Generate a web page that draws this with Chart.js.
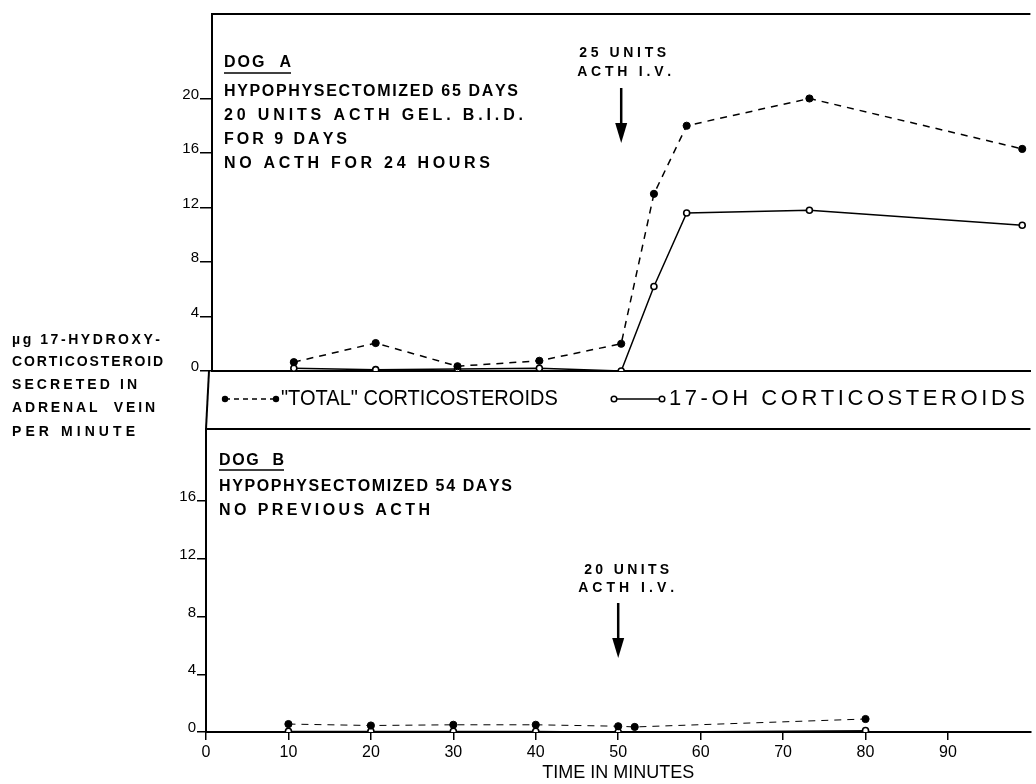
<!DOCTYPE html>
<html>
<head>
<meta charset="utf-8">
<script src="https://cdn.jsdelivr.net/npm/chart.js@4.4.1/dist/chart.umd.min.js"></script>
<style>
  html, body { margin: 0; padding: 0; background: #fff; }
  #wrap { position: relative; width: 1036px; height: 784px; }
  canvas { position: absolute; left: 0; top: 0; }
</style>
</head>
<body>
<div id="wrap">
  <canvas id="chartA" width="1036" height="784"></canvas>
  <canvas id="chartB" width="1036" height="784"></canvas>
</div>
<script>
// ── Datos ───────────────────────────────────────────
const dogAMinutes = [10, 20, 30, 40, 50, 54, 58, 73, 99];
const dogATotal = [0.65, 2.05, 0.35, 0.75, 2.0, 13.0, 18.0, 20.0, 16.3];
const dogA17OH = [0.2, 0.1, 0.15, 0.2, 0, 6.2, 11.6, 11.8, 10.7];

const dogBTotalMinutes = [10, 20, 30, 40, 50, 52, 80];
const dogBTotal = [0.55, 0.45, 0.5, 0.5, 0.4, 0.35, 0.9];
const dogB17OHMinutes = [10, 20, 30, 40, 50, 80];
const dogB17OH = [0.05, 0.05, 0.05, 0.05, 0, 0.1];

const yTicksA = [0, 4, 8, 12, 16, 20];
const yTicksB = [0, 4, 8, 12, 16];
const xTicks = [0, 10, 20, 30, 40, 50, 60, 70, 80, 90];

const ACTH_MIN = 50;
const INK = '#000';
const FONT = "'Liberation Sans', Arial, sans-serif";

// ── Texto ajustado a un ancho dado ──────────────────
function spaced(ctx, text, x, y, width) {
  const chars = [...text];
  const natural = chars.reduce((a, c) => a + ctx.measureText(c).width, 0);
  if (natural > width) {
    ctx.save();
    ctx.translate(x, y);
    ctx.scale(width / natural, 1);
    ctx.fillText(text, 0, 0);
    ctx.restore();
    return;
  }
  const gap = chars.length > 1 ? (width - natural) / (chars.length - 1) : 0;
  let cx = x;
  for (const c of chars) {
    ctx.fillText(c, cx, y);
    cx += ctx.measureText(c).width + gap;
  }
}

function arrow(ctx, x, y0, y1) {
  ctx.save();
  ctx.strokeStyle = INK; ctx.fillStyle = INK; ctx.lineWidth = 2.5;
  ctx.beginPath(); ctx.moveTo(x, y0); ctx.lineTo(x, y1 - 16); ctx.stroke();
  ctx.beginPath(); ctx.moveTo(x - 6, y1 - 20); ctx.lineTo(x + 6, y1 - 20); ctx.lineTo(x, y1); ctx.closePath(); ctx.fill();
  ctx.restore();
}

// ── Series ──────────────────────────────────────────
function totalSet(xs, ys, lw) {
  return {
    label: '"TOTAL" CORTICOSTEROIDS',
    data: xs.map((x, i) => ({ x, y: ys[i] })),
    borderColor: INK, borderWidth: lw, borderDash: [7, 6],
    pointRadius: 3.6, pointBackgroundColor: INK, pointBorderColor: INK, pointBorderWidth: 1
  };
}
function ohSet(xs, ys, lw) {
  return {
    label: '17-OH CORTICOSTEROIDS',
    data: xs.map((x, i) => ({ x, y: ys[i] })),
    borderColor: INK, borderWidth: lw,
    pointRadius: 3, pointBackgroundColor: '#fff', pointBorderColor: INK, pointBorderWidth: 1.6
  };
}

function yScale(max, ticks, width, tickLen) {
  return {
    min: 0, max,
    afterBuildTicks: s => { s.ticks = ticks.map(v => ({ value: v })); },
    afterFit: s => { s.width = width; },
    grid: { drawOnChartArea: false, drawTicks: true, tickLength: tickLen, color: INK, lineWidth: 1.5 },
    border: { color: INK, width: 2 },
    ticks: { color: INK, padding: 1, labelOffset: -4, font: { family: FONT, size: 15 } }
  };
}

const common = {
  responsive: false, animation: false,
  plugins: { legend: { display: false }, tooltip: { enabled: false } },
  elements: { line: { tension: 0, fill: false } }
};

// ── Panel A ─────────────────────────────────────────
const annotA = {
  id: 'annotA',
  afterDraw(chart) {
    const { ctx, chartArea: a, scales: { x } } = chart;
    ctx.save();
    ctx.strokeStyle = INK; ctx.lineWidth = 2;
    ctx.beginPath(); ctx.moveTo(a.left - 1, a.top); ctx.lineTo(a.right, a.top); ctx.stroke();

    ctx.fillStyle = INK; ctx.textBaseline = 'middle'; ctx.textAlign = 'left';
    ctx.font = `bold 16px ${FONT}`;
    spaced(ctx, 'DOG  A', 224, 63, 67);
    ctx.lineWidth = 1.5;
    ctx.beginPath(); ctx.moveTo(224, 73); ctx.lineTo(291, 73); ctx.stroke();
    spaced(ctx, 'HYPOPHYSECTOMIZED 65 DAYS', 224, 92, 294);
    spaced(ctx, '20 UNITS ACTH GEL. B.I.D.', 224, 116, 299);
    spaced(ctx, 'FOR 9 DAYS', 224, 140, 123);
    spaced(ctx, 'NO ACTH FOR 24 HOURS', 224, 164, 266);

    const ax = x.getPixelForValue(ACTH_MIN);
    ctx.font = `bold 14px ${FONT}`;
    spaced(ctx, '25 UNITS', ax - 42, 53, 87);
    spaced(ctx, 'ACTH I.V.', ax - 44, 72, 94);
    arrow(ctx, ax, 88, 143);
    ctx.restore();
  }
};

new Chart(document.getElementById('chartA'), {
  type: 'line',
  data: { datasets: [totalSet(dogAMinutes, dogATotal, 1.5), ohSet(dogAMinutes, dogA17OH, 1.5)] },
  options: {
    ...common,
    layout: { padding: { left: 0, right: 0, top: 14, bottom: 413 } },
    scales: {
      x: {
        type: 'linear', min: 0, max: 100,
        afterFit: s => { s.height = 0; },
        grid: { display: false }, ticks: { display: false },
        border: { color: INK, width: 2 }
      },
      y: yScale(26.2, yTicksA, 212, 12)
    }
  },
  plugins: [annotA]
});

// ── Panel B + leyenda + título eje Y ────────────────
const annotB = {
  id: 'annotB',
  afterDraw(chart) {
    const { ctx, chartArea: a, scales: { x } } = chart;
    ctx.save();
    ctx.strokeStyle = INK; ctx.lineWidth = 2;
    // marco de la banda de leyenda
    ctx.beginPath(); ctx.moveTo(209, 371); ctx.lineTo(a.left, a.top); ctx.stroke();
    ctx.beginPath(); ctx.moveTo(a.left - 1, a.top); ctx.lineTo(a.right, a.top); ctx.stroke();

    ctx.fillStyle = INK; ctx.textBaseline = 'middle'; ctx.textAlign = 'left';
    ctx.font = `bold 16px ${FONT}`;
    spaced(ctx, 'DOG  B', 219, 461, 65);
    ctx.lineWidth = 1.5;
    ctx.beginPath(); ctx.moveTo(219, 470); ctx.lineTo(284, 470); ctx.stroke();
    spaced(ctx, 'HYPOPHYSECTOMIZED 54 DAYS', 219, 487, 293);
    spaced(ctx, 'NO PREVIOUS ACTH', 219, 511, 211);

    const ax = x.getPixelForValue(ACTH_MIN);
    ctx.font = `bold 14px ${FONT}`;
    spaced(ctx, '20 UNITS', ax - 34, 570, 85);
    spaced(ctx, 'ACTH I.V.', ax - 40, 588, 96);
    arrow(ctx, ax, 603, 658);

    // leyenda
    const ly = 399;
    ctx.lineWidth = 1.5;
    ctx.setLineDash([5, 4]);
    ctx.beginPath(); ctx.moveTo(225, ly); ctx.lineTo(276, ly); ctx.stroke();
    ctx.setLineDash([]);
    [225, 276].forEach(px => { ctx.beginPath(); ctx.arc(px, ly, 3.2, 0, Math.PI * 2); ctx.fill(); });
    ctx.beginPath(); ctx.moveTo(614, ly); ctx.lineTo(662, ly); ctx.stroke();
    [614, 662].forEach(px => {
      ctx.beginPath(); ctx.arc(px, ly, 2.8, 0, Math.PI * 2);
      ctx.fillStyle = '#fff'; ctx.fill(); ctx.stroke(); ctx.fillStyle = INK;
    });
    ctx.font = `22px ${FONT}`;
    spaced(ctx, '"TOTAL" CORTICOSTEROIDS', 281, ly, 279);
    spaced(ctx, '17-OH CORTICOSTEROIDS', 669, ly, 356);

    // título eje Y
    ctx.font = `bold 14px ${FONT}`;
    spaced(ctx, 'µg 17-HYDROXY-', 12, 340, 148);
    spaced(ctx, 'CORTICOSTEROID', 12, 362, 151);
    spaced(ctx, 'SECRETED IN', 12, 385, 125);
    spaced(ctx, 'ADRENAL  VEIN', 12, 408, 143);
    spaced(ctx, 'PER MINUTE', 12, 432, 123);
    ctx.restore();
  }
};

new Chart(document.getElementById('chartB'), {
  type: 'line',
  data: { datasets: [totalSet(dogBTotalMinutes, dogBTotal, 1), ohSet(dogB17OHMinutes, dogB17OH, 1)] },
  options: {
    ...common,
    layout: { padding: { left: 0, right: 0, top: 429, bottom: 0 } },
    scales: {
      x: {
        type: 'linear', min: 0, max: 100,
        afterBuildTicks: s => { s.ticks = xTicks.map(v => ({ value: v })); },
        afterFit: s => { s.height = 52; },
        grid: { drawOnChartArea: false, drawTicks: true, tickLength: 8, color: INK, lineWidth: 1.5 },
        border: { color: INK, width: 2 },
        ticks: { color: INK, padding: 3, maxRotation: 0, font: { family: FONT, size: 16 } },
        title: { display: true, text: 'TIME IN MINUTES', color: INK, padding: 0, font: { family: FONT, size: 18 } }
      },
      y: yScale(21, yTicksB, 206, 9)
    }
  },
  plugins: [annotB]
});
</script>
</body>
</html>
